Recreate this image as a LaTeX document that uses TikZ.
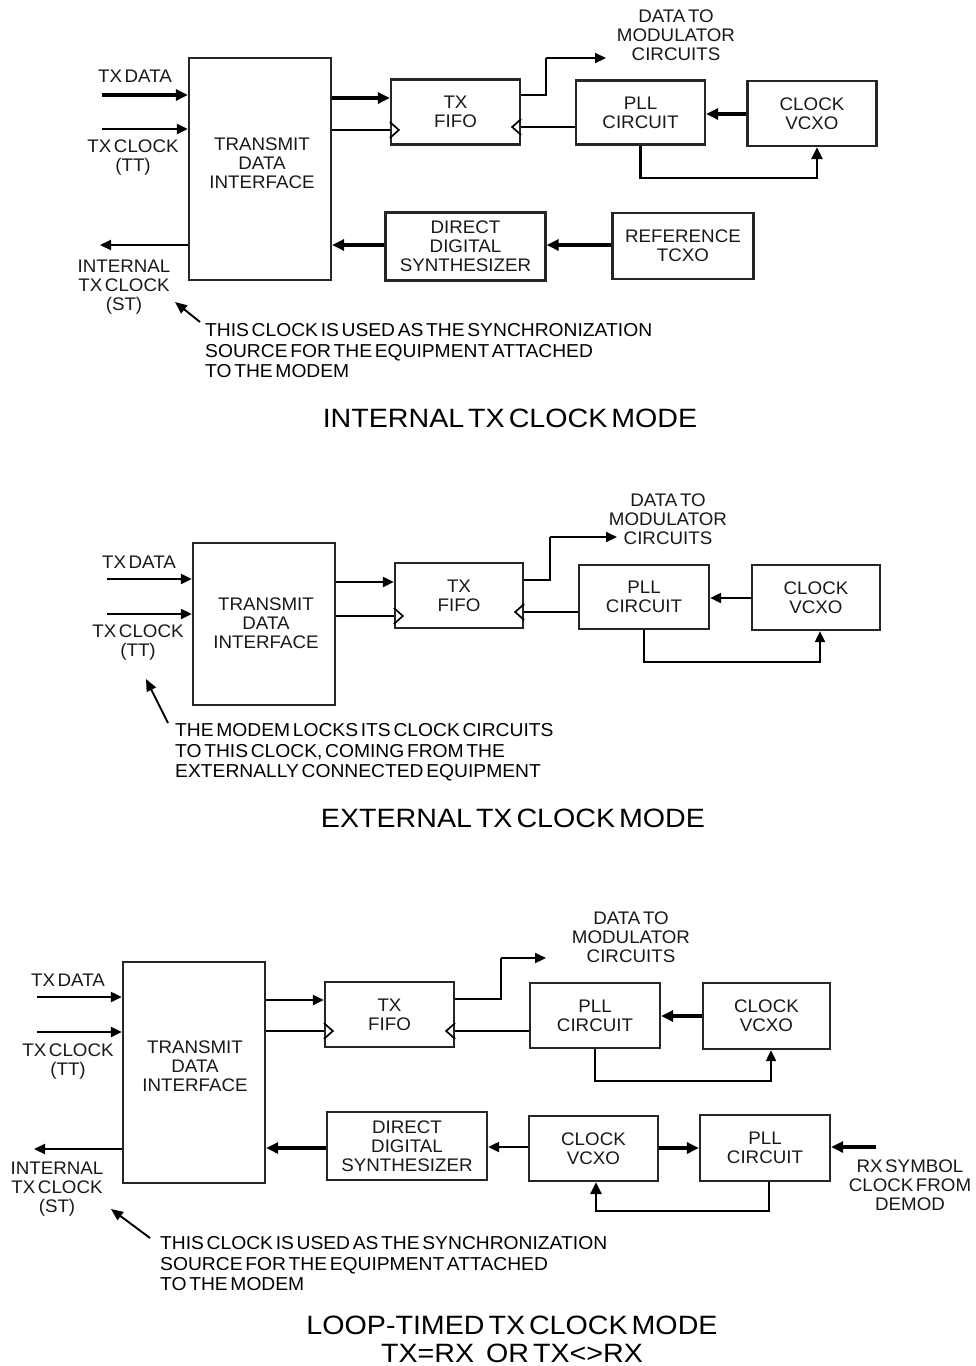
\documentclass[tikz,border=0pt]{standalone}
\usepackage{fontspec}
\setmainfont{Liberation Sans}[WordSpace=0.5,FakeStretch=1.03]
\newfontfamily\ttlfamily{Liberation Sans}[FakeStretch=1.08,WordSpace=0.5]
\usetikzlibrary{arrows.meta}
\newcommand\lblfont{\fontsize{18.2}{19}\selectfont}
\newcommand\notefont{\fontsize{18.7}{20.3}\selectfont}
\begin{document}
\begin{tikzpicture}[x=1pt,y=-1pt,
  box/.style={draw=black!85, line width=2.3pt, inner sep=0pt, align=center, font=\lblfont, text=black!90},
  lbl/.style={align=center, font=\lblfont, inner sep=0pt, text=black!90},
  note/.style={align=left, anchor=base west, font=\notefont, inner sep=0pt, text=black},
  ttl/.style={font=\ttlfamily\fontsize{26.5}{28}\selectfont, align=center, inner sep=0pt, text=black},
  thk/.style={line width=3.4pt, -{Triangle[length=12pt,width=11pt]}},
  thn/.style={line width=2.1pt, -{Triangle[length=11pt,width=10pt]}},
  fb/.style={line width=2.3pt, -{Triangle[length=12pt,width=11pt]}},
  ptr/.style={line width=1.9pt, -{Triangle[length=12pt,width=10pt]}},
  ln/.style={line width=2.1pt},
  clk/.style={line width=1.7pt, line join=miter}]
\useasboundingbox[fill=white] (0,0) rectangle (975,1366);

%% ================= SECTION 1 : INTERNAL =================
\node[box, minimum width=142, minimum height=222] (tdiA) at (260,169) {};
\node[lbl] (tdiAt) at (262,163.5) {TRANSMIT\\DATA\\INTERFACE};
\node[box, minimum width=129, minimum height=65] (fifoA) at (455.5,112) {TX\\FIFO};
\node[box, minimum width=129, minimum height=64] (pllA) at (640.5,112.5) {PLL\\CIRCUIT};
\node[box, minimum width=129, minimum height=65] (vcxoA) at (812,113.5) {CLOCK\\VCXO};
\node[box, minimum width=160, minimum height=68] (ddsA) at (465.5,246.5) {DIRECT\\DIGITAL\\SYNTHESIZER};
\node[box, minimum width=141, minimum height=66] (refA) at (683,246) {REFERENCE\\TCXO};

\node[lbl] (txdA) at (135,76) {TX DATA};
\node[lbl] (txcA) at (133,158) {TX CLOCK\\(TT)};
\node[lbl] (intA) at (124,287) {INTERNAL\\TX CLOCK\\(ST)};
\node[lbl] (modA) at (676,35) {DATA TO\\MODULATOR\\CIRCUITS};
\node[note] (noteA) at (205,377.5) {THIS CLOCK IS USED AS THE SYNCHRONIZATION\\SOURCE FOR THE EQUIPMENT ATTACHED\\TO THE MODEM};
\node[ttl] (ttlA) at (510,418) {INTERNAL TX CLOCK MODE};

\coordinate (inA1) at (102,95);
\coordinate (inA2) at (102,129);
\coordinate (outA) at (100,245);
\coordinate (modAk) at (546,58);
\coordinate (modAe) at (606,58);
\coordinate (pA1) at (200,322);
\coordinate (pA2) at (175,302);

\draw[thk] (inA1) -- (tdiA.west|-inA1);
\draw[thn] (inA2) -- (tdiA.west|-inA2);
\draw[thk] (tdiA.east|-0,98) -- (fifoA.west|-0,98);
\draw[ln] (tdiA.east|-0,130) -- (fifoA.west|-0,130);
\draw[clk] (fifoA.west|-0,122) -- ++(9,8) -- ++(-9,8);
\draw[clk] (fifoA.east|-0,119) -- ++(-9,8) -- ++(9,8);
\draw[ln] (fifoA.east|-0,95) -- (modAk|-0,95) -- (modAk);
\draw[thn] (modAk) -- (modAe);
\draw[ln] (pllA.west|-0,127) -- (fifoA.east|-0,127);
\draw[thk] (vcxoA.west|-0,114) -- (pllA.east|-0,114);
\draw[fb] (pllA.south) -- ++(0,32) -| ([xshift=5]vcxoA.south);
\draw[thk] (refA.west|-0,245) -- (ddsA.east|-0,245);
\draw[thk] (ddsA.west|-0,245) -- (tdiA.east|-0,245);
\draw[thn] (tdiA.west|-0,245) -- (outA);
\draw[ptr] (pA1) -- (pA2);

%% ================= SECTION 2 : EXTERNAL =================
\node[box, minimum width=142, minimum height=162] (tdiB) at (264,624) {};
\node[lbl] (tdiBt) at (266,623) {TRANSMIT\\DATA\\INTERFACE};
\node[box, minimum width=128, minimum height=65] (fifoB) at (459,595.5) {TX\\FIFO};
\node[box, minimum width=130, minimum height=64] (pllB) at (644,597) {PLL\\CIRCUIT};
\node[box, minimum width=128, minimum height=65] (vcxoB) at (816,597.5) {CLOCK\\VCXO};

\node[lbl] (txdB) at (139,562) {TX DATA};
\node[lbl] (txcB) at (138,642.5) {TX CLOCK\\(TT)};
\node[lbl] (modB) at (668,519) {DATA TO\\MODULATOR\\CIRCUITS};
\node[note] (noteB) at (175,777.5) {THE MODEM LOCKS ITS CLOCK CIRCUITS\\TO THIS CLOCK, COMING FROM THE\\EXTERNALLY CONNECTED EQUIPMENT};
\node[ttl] (ttlB) at (513,818) {EXTERNAL TX CLOCK MODE};

\coordinate (inB1) at (107,579);
\coordinate (inB2) at (107,614);
\coordinate (modBk) at (550,537);
\coordinate (modBe) at (617,537);
\coordinate (pB1) at (168,723);
\coordinate (pB2) at (146,679);

\draw[thn] (inB1) -- (tdiB.west|-inB1);
\draw[thn] (inB2) -- (tdiB.west|-inB2);
\draw[thn] (tdiB.east|-0,582) -- (fifoB.west|-0,582);
\draw[ln] (tdiB.east|-0,616) -- (fifoB.west|-0,616);
\draw[clk] (fifoB.west|-0,608) -- ++(9,8) -- ++(-9,8);
\draw[clk] (fifoB.east|-0,604) -- ++(-9,8) -- ++(9,8);
\draw[ln] (fifoB.east|-0,580) -- (modBk|-0,580) -- (modBk);
\draw[thn] (modBk) -- (modBe);
\draw[ln] (pllB.west|-0,612) -- (fifoB.east|-0,612);
\draw[thn] (vcxoB.west|-0,598) -- (pllB.east|-0,598);
\draw[thn] (pllB.south) -- ++(0,32) -| ([xshift=4]vcxoB.south);
\draw[ptr] (pB1) -- (pB2);

%% ================= SECTION 3 : LOOP-TIMED =================
\node[box, minimum width=142, minimum height=221] (tdiC) at (194,1072.5) {};
\node[lbl] (tdiCt) at (195,1066) {TRANSMIT\\DATA\\INTERFACE};
\node[box, minimum width=129, minimum height=65] (fifoC) at (389.5,1014.5) {TX\\FIFO};
\node[box, minimum width=130, minimum height=65] (pllC) at (595,1015.5) {PLL\\CIRCUIT};
\node[box, minimum width=127, minimum height=66] (vcxoC) at (766.5,1016) {CLOCK\\VCXO};
\node[box, minimum width=160, minimum height=68] (ddsC) at (407,1146) {DIRECT\\DIGITAL\\SYNTHESIZER};
\node[box, minimum width=129, minimum height=65] (vcxoD) at (593.5,1148.5) {CLOCK\\VCXO};
\node[box, minimum width=130, minimum height=66] (pllD) at (765,1148) {PLL\\CIRCUIT};

\node[lbl] (txdC) at (68,980) {TX DATA};
\node[lbl] (txcC) at (68,1061.5) {TX CLOCK\\(TT)};
\node[lbl] (intC) at (57,1189) {INTERNAL\\TX CLOCK\\(ST)};
\node[lbl] (modC) at (631,937) {DATA TO\\MODULATOR\\CIRCUITS};
\node[lbl] (rxC) at (910,1185) {RX SYMBOL\\CLOCK FROM\\DEMOD};
\node[note] (noteC) at (160,1290.5) {THIS CLOCK IS USED AS THE SYNCHRONIZATION\\SOURCE FOR THE EQUIPMENT ATTACHED\\TO THE MODEM};
\node[ttl] (ttlC) at (512,1339) {LOOP-TIMED TX CLOCK MODE\\TX=RX\hspace{12pt}OR TX<>RX};

\coordinate (inC1) at (37,997);
\coordinate (inC2) at (37,1032);
\coordinate (outC) at (34,1149);
\coordinate (rxIn) at (876,1147);
\coordinate (modCk) at (501,958);
\coordinate (modCe) at (546,958);
\coordinate (pC1) at (150,1238);
\coordinate (pC2) at (111,1209);

\draw[thn] (inC1) -- (tdiC.west|-inC1);
\draw[thn] (inC2) -- (tdiC.west|-inC2);
\draw[thn] (tdiC.east|-0,1000) -- (fifoC.west|-0,1000);
\draw[ln] (tdiC.east|-0,1031) -- (fifoC.west|-0,1031);
\draw[clk] (fifoC.west|-0,1023) -- ++(9,8) -- ++(-9,8);
\draw[clk] (fifoC.east|-0,1023) -- ++(-9,8) -- ++(9,8);
\draw[ln] (fifoC.east|-0,999) -- (modCk|-0,999) -- (modCk);
\draw[thn] (modCk) -- (modCe);
\draw[ln] (pllC.west|-0,1031) -- (fifoC.east|-0,1031);
\draw[thk] (vcxoC.west|-0,1016) -- (pllC.east|-0,1016);
\draw[thn] (pllC.south) -- ++(0,32) -| ([xshift=4.5]vcxoC.south);
\draw[thk] (rxIn) -- (pllD.east|-rxIn);
\draw[thk] (vcxoD.east|-0,1148) -- (pllD.west|-0,1148);
\draw[fb] ([xshift=4]pllD.south) -- ++(0,29) -| ([xshift=2.5]vcxoD.south);
\draw[thn] (vcxoD.west|-0,1147) -- (ddsC.east|-0,1147);
\draw[thk] (ddsC.west|-0,1148) -- (tdiC.east|-0,1148);
\draw[thn] (tdiC.west|-0,1149) -- (outC);
\draw[ptr] (pC1) -- (pC2);
\end{tikzpicture}
\end{document}
